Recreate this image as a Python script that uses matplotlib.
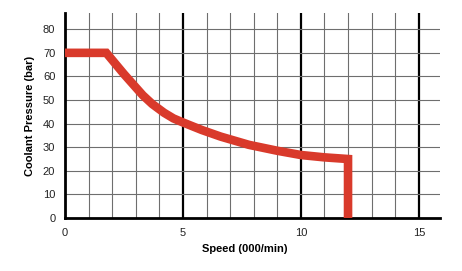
import matplotlib.pyplot as plt

plt.rcParams['font.family'] = ['Liberation Sans', 'DejaVu Sans']

# Curve: speed (000/min) vs coolant pressure (bar)
speed = [0, 1.75, 2.1, 2.5, 2.9, 3.3, 3.7, 4.2, 4.6, 5.0, 5.8, 6.6, 7.8, 9.0, 10.0, 11.0, 12.0, 12.0]
pressure = [70, 70, 65.8, 61, 56.5, 52, 48.3, 44.6, 42.2, 40.5, 37.3, 34.5, 31, 28.5, 26.7, 25.7, 25, 0]

x_ticks = [0, 5, 10, 15]
y_ticks = [0, 10, 20, 30, 40, 50, 60, 70, 80]

fig = plt.figure(figsize=(4.62, 2.71), dpi=100)
ax = fig.add_axes([0.1407, 0.1956, 0.8117, 0.7565])
ax.set_xlim(0, 15.9)
ax.set_ylim(0, 86.9)

# grid: thin gray every unit, thick black every 5
for x in range(1, 16):
    if x % 5 == 0:
        ax.axvline(x, color='black', lw=1.6, zorder=1)
    else:
        ax.axvline(x, color='#6e6e6e', lw=0.8, zorder=1)
for y in y_ticks[1:]:
    ax.axhline(y, color='#6e6e6e', lw=0.8, zorder=1)

ax.plot(speed, pressure, color='#d93a2b', lw=6.2, solid_joinstyle='miter',
        solid_capstyle='butt', zorder=3)

for side in ['top', 'right']:
    ax.spines[side].set_visible(False)
ax.spines['left'].set_linewidth(2)
ax.spines['bottom'].set_linewidth(2)

ax.set_xticks(x_ticks)
ax.set_yticks(y_ticks)
ax.tick_params(length=0, labelsize=8, colors='#222222', pad=7)

ax.set_xlabel("Speed (000/min)", fontsize=8, fontweight='bold', labelpad=2)
ax.xaxis.set_label_coords(0.478, -0.125)
ax.set_ylabel("Coolant Pressure (bar)", fontsize=8, fontweight='bold', labelpad=6)

fig.savefig('out.png', dpi=100)
